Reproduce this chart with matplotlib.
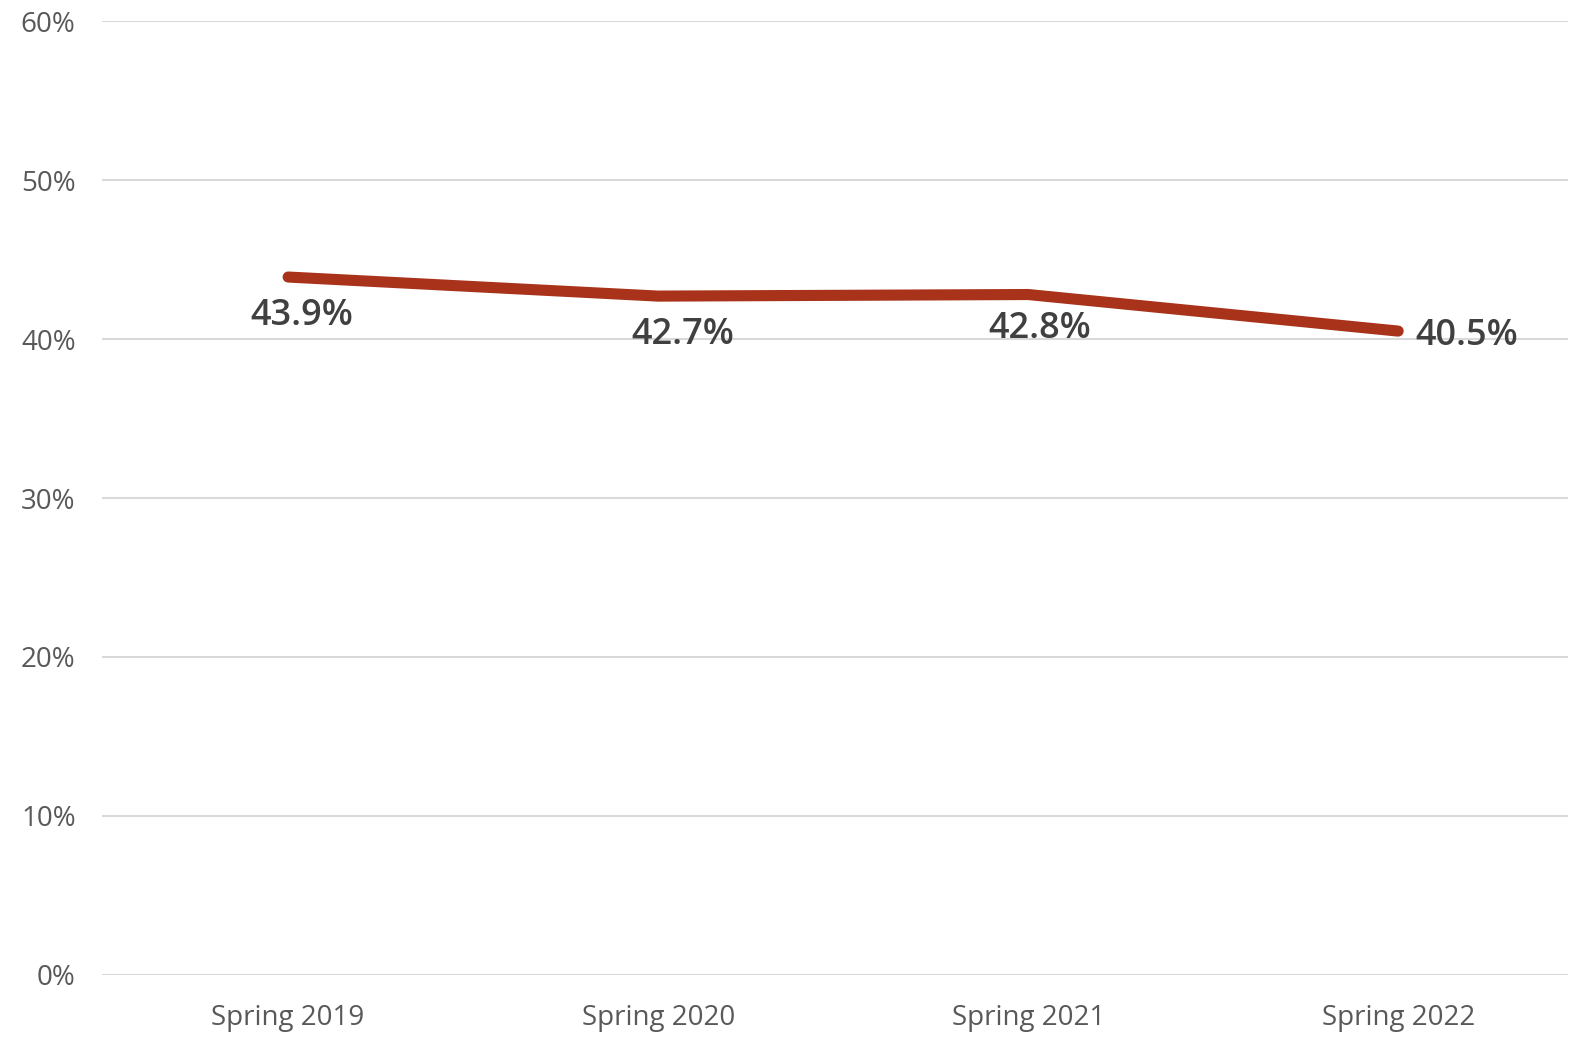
import matplotlib.pyplot as plt
from matplotlib.ticker import FuncFormatter

# chart data
categories = ['Spring 2019', 'Spring 2020', 'Spring 2021', 'Spring 2022']
values = [43.9, 42.7, 42.8, 40.5]
y_ticks = [0, 10, 20, 30, 40, 50, 60]

# label offsets (pixels) relative to each point
label_offsets = [(14, -39), (25, -39), (12, -34), (69, -5)]

plt.rcParams['font.family'] = ['Open Sans', 'DejaVu Sans']

fig = plt.figure(figsize=(15.88, 10.54), dpi=100)
ax = fig.add_axes([102 / 1588, 0.075, (1568 - 102) / 1588, 0.905])

x = list(range(len(categories)))
ax.plot(x, values, color='#A8321A', linewidth=8, solid_capstyle='round', zorder=3)

for xi, v, (dx, dy) in zip(x, values, label_offsets):
    ax.annotate(f'{v:.1f}%', (xi, v), xytext=(dx, dy), textcoords='offset pixels',
                ha='center', va='center', fontsize=26, fontweight='semibold',
                color='#404040', zorder=4)

ax.set_xlim(-0.503, 3.459)
ax.set_ylim(0, 60)
ax.set_yticks(y_ticks)
ax.yaxis.set_major_formatter(FuncFormatter(lambda v, p: f'{v:.0f}%'))
ax.set_xticks(x)
ax.set_xticklabels(categories)

ax.grid(axis='y', color='#D9D9D9', linewidth=1.5)
ax.set_axisbelow(True)
for s in ax.spines.values():
    s.set_visible(False)
ax.tick_params(axis='both', length=0, labelsize=20, colors='#595959')
for lbl in ax.get_xticklabels() + ax.get_yticklabels():
    lbl.set_fontweight('medium')
ax.tick_params(axis='x', pad=21)
ax.tick_params(axis='y', pad=19)

fig.savefig('out.png', dpi=100, facecolor='white')
